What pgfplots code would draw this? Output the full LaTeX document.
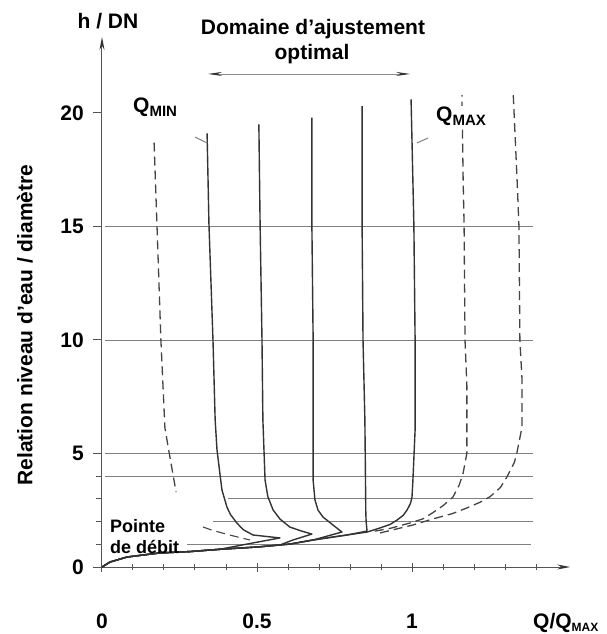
\documentclass[border=0pt]{standalone}
\usepackage{fontspec}
\setmainfont{Liberation Sans}
\usepackage{pgfplots}
\pgfplotsset{compat=1.18}
\usetikzlibrary{arrows.meta}
\definecolor{crv}{HTML}{333333}
\definecolor{dsh}{HTML}{444444}
\definecolor{grd}{HTML}{808080}
\definecolor{axc}{HTML}{555555}
\newcommand{\fs}[1]{\fontsize{#1bp}{#1bp}\selectfont\bfseries}
\begin{document}
\begin{tikzpicture}
\useasboundingbox (-102bp,-67bp) rectangle (505bp,567bp);
\begin{axis}[
  at={(0,0)}, anchor=south west,
  x=310bp, y=22.7bp,
  xmin=0, xmax=1.51, ymin=0, ymax=23.35,
  enlargelimits=false, clip=false,
  axis lines=left,
  axis line style={draw=axc, line width=1bp, -{Stealth[length=13bp,width=5bp,color=black!80]}},
  xtick={0,0.5,1}, xticklabels={0,0.5,1},
  minor xtick={0.1,0.2,0.3,0.4,0.5,0.6,0.7,0.8,0.9,1.1,1.2,1.3,1.4},
  ytick={0,5,10,15,20}, minor ytick={1,2,3,4},
  xtick align=center, ytick align=outside,
  major tick length=9bp, minor tick length=6bp,
  tick style={draw=axc, line width=1bp},
  tick label style={font=\fs{21}},
  /pgf/number format/assume math mode=true,
  yticklabel style={anchor=east, inner sep=0pt, xshift=-9bp},
  xticklabel style={anchor=base, inner sep=0pt, yshift=-57bp},
]
% grid lines
\addplot[grd, line width=0.9bp] coordinates {(0.01,15) (1.39,15)};
\addplot[grd, line width=0.9bp] coordinates {(0.01,10) (1.39,10)};
\addplot[grd, line width=0.9bp] coordinates {(0.01,5) (1.39,5)};
\addplot[grd, line width=0.9bp] coordinates {(0.01,4) (1.39,4)};
\addplot[grd, line width=0.9bp] coordinates {(0.406,3) (1.39,3)};
\addplot[grd, line width=0.9bp] coordinates {(0.358,2) (1.39,2)};
\addplot[grd, line width=0.9bp] coordinates {(0.274,1) (1.385,1)};
% solid curves
\addplot[crv, line width=1.4bp, line join=round] coordinates {(0,0)(0.026,0.22)(0.081,0.44)(0.187,0.62)(0.284,0.68)(0.38,0.78)(0.487,1.06)(0.574,1.28)(0.487,1.41)(0.455,1.65)(0.435,1.94)(0.415,2.3)(0.403,2.64)(0.387,3.39)(0.371,5.15)(0.365,6.48)(0.358,10.0)(0.345,15.1)(0.339,19.1)};
\addplot[crv, line width=1.4bp, line join=round] coordinates {(0,0)(0.026,0.22)(0.081,0.44)(0.187,0.62)(0.284,0.68)(0.39,0.79)(0.5,0.88)(0.574,0.97)(0.616,1.19)(0.677,1.45)(0.64,1.6)(0.606,1.76)(0.575,2.1)(0.552,2.51)(0.535,3.1)(0.526,3.83)(0.519,6.48)(0.516,10.1)(0.51,15.1)(0.506,19.5)};
\addplot[crv, line width=1.4bp, line join=round] coordinates {(0,0)(0.026,0.22)(0.081,0.44)(0.187,0.62)(0.284,0.68)(0.39,0.79)(0.5,0.88)(0.606,1.01)(0.681,1.19)(0.774,1.54)(0.745,1.85)(0.713,2.2)(0.697,2.5)(0.687,2.95)(0.681,3.83)(0.681,6.48)(0.681,10.1)(0.677,15.1)(0.677,19.8)};
\addplot[crv, line width=1.4bp, line join=round] coordinates {(0,0)(0.026,0.22)(0.081,0.44)(0.187,0.62)(0.284,0.68)(0.39,0.79)(0.5,0.88)(0.606,1.01)(0.681,1.19)(0.79,1.41)(0.855,1.58)(0.852,2.0)(0.851,2.4)(0.848,6.5)(0.842,10)(0.839,15.1)(0.839,20.3)};
\addplot[crv, line width=1.4bp, line join=round] coordinates {(0,0)(0.026,0.22)(0.081,0.44)(0.187,0.62)(0.284,0.68)(0.39,0.79)(0.5,0.88)(0.606,1.01)(0.681,1.19)(0.79,1.41)(0.855,1.54)(0.897,1.72)(0.93,1.88)(0.952,2.07)(0.972,2.28)(0.984,2.51)(0.995,2.8)(1.0,3.08)(1.003,3.83)(1.01,6.04)(1.01,10.0)(1.006,15.1)(0.997,20.6)};
% dashed curves
\addplot[dsh, line width=1.3bp, dash pattern=on 9bp off 5bp] coordinates {(0.168,18.7)(0.177,15.2)(0.19,10.0)(0.203,6.12)(0.219,4.85)(0.239,3.3)};
\addplot[dsh, line width=1.1bp, dash pattern=on 9bp off 5bp] coordinates {(0.326,1.76)(0.36,1.6)(0.42,1.38)(0.477,1.19)};
\addplot[dsh, line width=1.3bp, dash pattern=on 9bp off 5bp] coordinates {(0.88,1.58)(0.929,1.7)(0.994,1.94)(1.035,2.12)(1.068,2.4)(1.1,2.7)(1.132,3.08)(1.152,3.6)(1.165,4.14)(1.177,5.02)(1.177,6.17)(1.177,8.0)(1.171,10.0)(1.168,15.07)(1.165,17.05)(1.161,20.8)};
\addplot[dsh, line width=1.3bp, dash pattern=on 9bp off 5bp] coordinates {(0.897,1.5)(1.003,1.85)(1.068,2.12)(1.13,2.35)(1.177,2.6)(1.219,2.85)(1.252,3.1)(1.285,3.5)(1.306,3.96)(1.33,4.6)(1.339,5.07)(1.355,6.17)(1.355,8.24)(1.348,10.0)(1.345,15.0)(1.339,17.05)(1.326,21.0)};
% annotations
\draw[{Stealth[length=14bp,width=4bp,color=black!80]}-{Stealth[length=14bp,width=4bp,color=black!80]}, draw=black!45, line width=0.8bp] (axis cs:0.342,21.72) -- (axis cs:0.994,21.72);
\draw[grd, line width=1bp] (axis cs:0.30,18.94) -- (axis cs:0.339,18.68);
\draw[grd, line width=1bp] (axis cs:1.016,18.68) -- (axis cs:1.052,18.9);
\end{axis}
\node[anchor=base, inner sep=0pt] at (6bp,538bp) {\fs{21}h / DN};
\node[anchor=base, inner sep=0pt] at (211bp,532bp) {\fs{21}Domaine d’ajustement};
\node[anchor=base, inner sep=0pt] at (210bp,507bp) {\fs{21}optimal};
\node[anchor=base west, inner sep=0pt] at (31bp,454bp) {\fs{21}Q\raisebox{-4bp}{\fs{15}MIN}};
\node[anchor=base west, inner sep=1bp, fill=white] at (333bp,445bp) {\fs{21}Q\raisebox{-4bp}{\fs{15}MAX}};
\node[anchor=base west, inner sep=0pt] at (8bp,35bp) {\fs{18}Pointe};
\node[anchor=base west, inner sep=0pt] at (8bp,14bp) {\fs{18}de débit};
\node[rotate=90, inner sep=0pt] at (-77bp,242bp) {\fs{21}Relation niveau d’eau / diamètre};
\node[anchor=base west, inner sep=0pt] at (431bp,-61bp) {\fs{21}Q/Q\raisebox{-3bp}{\fs{12}MAX}};
\end{tikzpicture}
\end{document}
